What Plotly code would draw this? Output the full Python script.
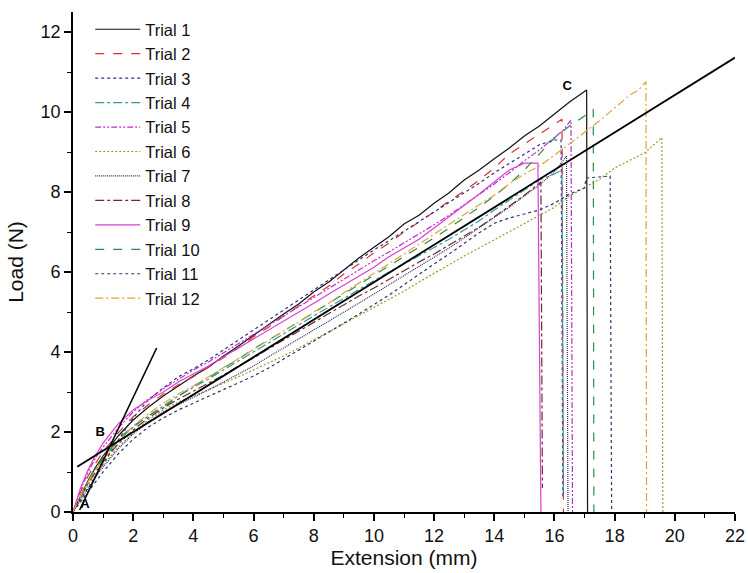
import plotly.graph_objects as go

# Shared extension grid (mm)
X_GRID = [0, 0.25, 0.5, 0.75, 1.0, 1.5, 2.0, 2.5, 3.0, 3.5, 4.0, 4.5, 5.0, 5.5, 6.0, 6.5,
          7.0, 7.5, 8.0, 8.5, 9.0, 9.5, 10.0, 10.5, 11.0, 11.5, 12.0, 12.5, 13.0, 13.5,
          14.0, 14.5, 15.0, 15.5, 16.0, 16.5, 17.0, 17.5, 18.0, 18.5, 19.0, 19.5]

TRIAL_NAMES = ["Trial 1", "Trial 2", "Trial 3", "Trial 4", "Trial 5", "Trial 6",
               "Trial 7", "Trial 8", "Trial 9", "Trial 10", "Trial 11", "Trial 12"]

# Load (N) on the grid, per trial
T1_Y = [0, 0.4, 0.78, 1.12, 1.4, 1.9, 2.3, 2.62, 2.9, 3.15, 3.4, 3.62, 3.9, 4.15, 4.42, 4.7,
        4.95, 5.2, 5.5, 5.75, 6.05, 6.35, 6.62, 6.88, 7.2, 7.42, 7.72, 7.98, 8.3, 8.55,
        8.83, 9.1, 9.4, 9.65, 9.95, 10.25]
T2_Y = [0, 0.5, 0.9, 1.22, 1.5, 1.98, 2.38, 2.68, 2.95, 3.18, 3.38, 3.62, 3.88, 4.1, 4.38, 4.62,
        4.9, 5.15, 5.42, 5.65, 5.95, 6.2, 6.48, 6.72, 7.0, 7.25, 7.5, 7.78, 8.02, 8.3,
        8.6, 8.95, 9.2, 9.45, 9.7]
T3_Y = [0, 0.3, 0.6, 0.9, 1.2, 1.8, 2.35, 2.8, 3.1, 3.38, 3.58, 3.8, 4.05, 4.3, 4.55, 4.82,
        5.05, 5.32, 5.55, 5.8, 6.05, 6.3, 6.55, 6.78, 7.02, 7.25, 7.5, 7.72, 7.98, 8.22,
        8.48, 8.72, 8.95, 9.18, 9.3]
T4_Y = [0, 0.4, 0.78, 1.08, 1.32, 1.78, 2.12, 2.4, 2.65, 2.9, 3.12, 3.32, 3.55, 3.78, 4.0, 4.22,
        4.45, 4.68, 4.9, 5.12, 5.35, 5.58, 5.8, 6.0, 6.2, 6.4, 6.6, 6.82, 7.05, 7.28,
        7.55, 7.8, 8.05, 8.3, 8.45]
T5_Y = [0, 0.55, 1.0, 1.35, 1.62, 2.1, 2.5, 2.82, 3.08, 3.32, 3.55, 3.75, 3.98, 4.22, 4.45, 4.68,
        4.9, 5.15, 5.38, 5.6, 5.82, 6.05, 6.28, 6.5, 6.72, 6.95, 7.18, 7.42, 7.68, 7.92,
        8.2, 8.48, 8.78, 9.05, 9.35]
T6_Y = [0, 0.35, 0.68, 0.95, 1.18, 1.62, 1.98, 2.3, 2.55, 2.75, 2.9, 3.05, 3.22, 3.38, 3.55, 3.72,
        3.9, 4.1, 4.3, 4.5, 4.7, 4.9, 5.1, 5.3, 5.52, 5.75, 5.97, 6.18, 6.4, 6.6,
        6.8, 7.0, 7.2, 7.4, 7.62, 7.9, 8.1, 8.32, 8.6, 8.78, 8.98]
T7_Y = [0, 0.3, 0.6, 0.88, 1.12, 1.58, 1.95, 2.25, 2.5, 2.68, 2.88, 3.05, 3.25, 3.45, 3.65, 3.88,
        4.1, 4.32, 4.55, 4.78, 5.0, 5.22, 5.45, 5.68, 5.9, 6.12, 6.35, 6.6, 6.85, 7.1,
        7.35, 7.62, 7.9, 8.18, 8.5]
T8_Y = [0, 0.38, 0.72, 1.0, 1.25, 1.7, 2.05, 2.35, 2.6, 2.82, 3.02, 3.22, 3.42, 3.65, 3.85, 4.08,
        4.3, 4.52, 4.75, 4.95, 5.18, 5.4, 5.6, 5.82, 6.02, 6.25, 6.45, 6.68, 6.9, 7.12,
        7.38, 7.65, 7.92, 8.22]
T9_Y = [0, 0.6, 1.05, 1.42, 1.72, 2.2, 2.55, 2.8, 3.0, 3.25, 3.45, 3.65, 3.88, 4.1, 4.32, 4.55,
        4.78, 5.0, 5.22, 5.45, 5.68, 5.9, 6.12, 6.38, 6.6, 6.82, 7.1, 7.38, 7.65, 7.95,
        8.25, 8.55, 8.72]
T10_Y = [0, 0.42, 0.8, 1.1, 1.35, 1.82, 2.15, 2.4, 2.62, 2.88, 3.15, 3.35, 3.6, 3.82, 4.08, 4.3,
         4.52, 4.75, 4.98, 5.22, 5.45, 5.7, 5.92, 6.15, 6.38, 6.62, 6.85, 7.1, 7.35, 7.62,
         7.9, 8.2, 8.55, 8.95, 9.35, 9.65, 9.9]
T11_Y = [0, 0.25, 0.52, 0.78, 1.0, 1.45, 1.82, 2.12, 2.35, 2.55, 2.72, 2.88, 3.05, 3.22, 3.4, 3.6,
         3.82, 4.05, 4.28, 4.5, 4.72, 4.95, 5.18, 5.42, 5.68, 5.95, 6.2, 6.45, 6.72, 6.98,
         7.22, 7.35, 7.45, 7.55, 7.72, 7.95, 8.1]
T12_Y = [0, 0.4, 0.75, 1.05, 1.3, 1.78, 2.15, 2.45, 2.72, 2.95, 3.15, 3.38, 3.6, 3.82, 4.05, 4.28,
         4.52, 4.75, 5.0, 5.22, 5.48, 5.72, 5.95, 6.2, 6.45, 6.7, 6.95, 7.2, 7.45, 7.68,
         7.92, 8.2, 8.45, 8.65, 8.92, 9.2, 9.48, 9.78, 10.1, 10.42]

# End of each test: peak then failure drop (x, y)
T1_TAIL = ([17.07, 17.1], [10.55, 0])
T2_TAIL = ([16.25, 16.3], [9.82, 0])
T3_TAIL = ([16.22, 16.28], [9.3, 0.35])
T4_TAIL = ([16.25, 16.3], [8.55, 0.3])
T5_TAIL = ([16.3, 16.55, 16.6], [9.55, 9.8, 0])
T6_TAIL = ([19.57, 19.6], [9.36, 0])
T7_TAIL = ([16.4, 16.45], [8.9, 0])
T8_TAIL = ([15.55, 15.6], [8.25, 0.6])
T9_TAIL = ([15.45, 15.55], [8.72, 0])
T10_TAIL = ([17.29, 17.31], [10.07, 0])
T11_TAIL = ([17.05, 17.85, 17.9], [8.35, 8.4, 0])
T12_TAIL = ([18.8, 19.04, 19.06], [10.55, 10.76, 0])

ALL_Y = [T1_Y, T2_Y, T3_Y, T4_Y, T5_Y, T6_Y, T7_Y, T8_Y, T9_Y, T10_Y, T11_Y, T12_Y]
ALL_TAIL = [T1_TAIL, T2_TAIL, T3_TAIL, T4_TAIL, T5_TAIL, T6_TAIL, T7_TAIL, T8_TAIL,
            T9_TAIL, T10_TAIL, T11_TAIL, T12_TAIL]

COLORS = ["#111111", "#d8332f", "#2b2f8f", "#2f9a9a", "#c02cc8", "#9c9a2e",
          "#2d2d6e", "#6e2b2b", "#d93fd3", "#2e8b45", "#33336e", "#e3a13a"]
DASHES = ["solid", "dash", "dot", "dashdot", "6px,2px,2px,2px,2px,2px", "2px,2px",
          "1px,1px", "dashdot", "solid", "dash", "dot", "8px,3px,2px,3px"]

# Construction lines (A-B tangent, B-C secant)
TANGENT_X = [0.22, 2.78]
TANGENT_Y = [0.05, 4.1]
SECANT_X = [0.14, 22.0]
SECANT_Y = [1.13, 11.36]

LABELS = ["A", "B", "C"]
LABEL_X = [0.4, 0.9, 16.42]
LABEL_Y = [0.17, 1.97, 10.63]

fig = go.Figure()
for name, ys, tail, col, dash in zip(TRIAL_NAMES, ALL_Y, ALL_TAIL, COLORS, DASHES):
    xs = X_GRID[:len(ys)] + tail[0]
    yy = ys + tail[1]
    fig.add_trace(go.Scatter(x=xs, y=yy, mode="lines", name=name,
                             line=dict(color=col, width=1.2, dash=dash)))

fig.add_trace(go.Scatter(x=TANGENT_X, y=TANGENT_Y, mode="lines", showlegend=False,
                         line=dict(color="black", width=1.6)))
fig.add_trace(go.Scatter(x=SECANT_X, y=SECANT_Y, mode="lines", showlegend=False,
                         line=dict(color="black", width=1.8)))
fig.add_trace(go.Scatter(x=LABEL_X, y=LABEL_Y, mode="text", text=LABELS, showlegend=False,
                         textfont=dict(family="Liberation Sans", size=13, color="black"),
                         texttemplate="<b>%{text}</b>"))

axis_common = dict(showline=True, linecolor="black", linewidth=1.6, ticks="outside",
                   ticklen=7, tickwidth=1.6, tickcolor="black", showgrid=False,
                   zeroline=False, mirror=False, automargin=False,
                   tickfont=dict(family="Liberation Sans", size=18, color="#111"))

fig.update_layout(
    width=748, height=573,
    margin=dict(l=73, r=13, t=12, b=61),
    paper_bgcolor="white", plot_bgcolor="white",
    xaxis=dict(range=[0, 22], dtick=2, tick0=0,
               title=dict(text="Extension (mm)", standoff=0,
                          font=dict(family="Liberation Sans", size=21, color="#111")),
               minor=dict(dtick=1, ticks="outside", ticklen=4, tickwidth=1.4,
                          tickcolor="black"),
               **axis_common),
    yaxis=dict(range=[0, 12.5], dtick=2, tick0=0,
               title=dict(text="Load (N)", standoff=11,
                          font=dict(family="Liberation Sans", size=21, color="#111")),
               minor=dict(dtick=1, ticks="outside", ticklen=4, tickwidth=1.4,
                          tickcolor="black"),
               **axis_common),
    legend=dict(x=0.026, y=1.0, xanchor="left", yanchor="top",
                bgcolor="rgba(255,255,255,0)", borderwidth=0,
                font=dict(family="Liberation Sans", size=16.5, color="#111"),
                itemwidth=45, tracegroupgap=0),
    showlegend=True,
)

# remove the default page margin so the figure sits at the window's top-left corner
fig.write_html("out.html", config={"displayModeBar": False},
               post_script="document.body.style.margin='0';document.body.style.overflow='hidden';")
